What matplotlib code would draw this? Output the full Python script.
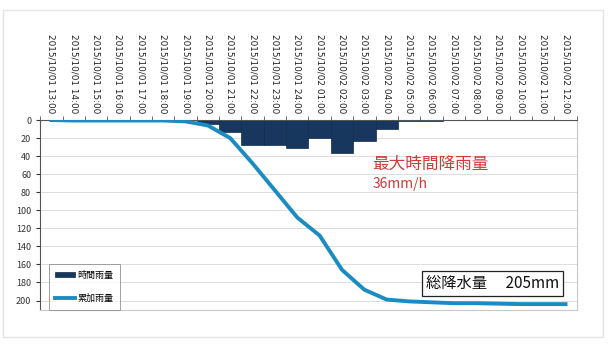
import matplotlib
matplotlib.use('Agg')
import matplotlib.pyplot as plt
from matplotlib.patches import Rectangle

plt.rcParams['font.family'] = ['Noto Sans CJK JP', 'DejaVu Sans']

times = ['2015/10/01 13:00', '2015/10/01 14:00', '2015/10/01 15:00', '2015/10/01 16:00',
         '2015/10/01 17:00', '2015/10/01 18:00', '2015/10/01 19:00', '2015/10/01 20:00',
         '2015/10/01 21:00', '2015/10/01 22:00', '2015/10/01 23:00', '2015/10/01 24:00',
         '2015/10/02 01:00', '2015/10/02 02:00', '2015/10/02 03:00', '2015/10/02 04:00',
         '2015/10/02 05:00', '2015/10/02 06:00', '2015/10/02 07:00', '2015/10/02 08:00',
         '2015/10/02 09:00', '2015/10/02 10:00', '2015/10/02 11:00', '2015/10/02 12:00']
hourly = [0, 0, 0, 0, 0, 0, 0, 4, 13, 28, 28, 31, 20, 36, 23, 10, 1, 1, 0, 0, 0, 0, 0, 0]
cumulative = [0, 0.5, 0.5, 0.5, 0.5, 0.5, 1.5, 6, 20, 48, 78, 108, 128, 166, 188, 199,
              201, 202, 203, 203, 203.5, 204, 204, 204]

fig = plt.figure(figsize=[6.09, 3.47], dpi=100)
fig.patches.append(Rectangle((0.005, 0.03), 0.985, 0.94, transform=fig.transFigure,
                             fill=False, edgecolor='#e4e4e4', linewidth=1))
ax = fig.add_axes([0.066, 0.108, 0.881, 0.546])

x = list(range(len(times)))
bars = ax.bar(x, hourly, width=1.0, color='#17375E', edgecolor='#102a45', linewidth=0.5,
              label='時間雨量', zorder=2)
line, = ax.plot(x, cumulative, color='#1a8cc2', linewidth=2.8, label='累加雨量', zorder=3)

ax.set_xlim(-0.5, len(times) - 0.5)
ax.set_ylim(210, 0)
ax.set_yticks(range(0, 201, 20))
ax.tick_params(axis='y', labelsize=6.5, length=3, direction='out', colors='#333333')
ax.grid(axis='y', color='#dddddd', linewidth=0.7, zorder=0)

ax.xaxis.tick_top()
ax.set_xticks(x)
ax.set_xticklabels(times, rotation=270, fontsize=6.4, family=['DejaVu Sans'])
ax.set_xticks([i - 0.5 for i in range(len(times) + 1)], minor=True)
ax.tick_params(axis='x', which='major', length=0, pad=5, colors='#222222')
ax.tick_params(axis='x', which='minor', length=3, direction='out', color='#555555')

for side in ['right', 'bottom']:
    ax.spines[side].set_color('#c8c8c8')
ax.spines['top'].set_color('#555555')
ax.spines['left'].set_color('#555555')

ax.text(14.35, 49, '最大時間降雨量', color='#d03a3a', fontsize=12, va='center')
ax.text(14.35, 71, '36mm/h', color='#d03a3a', fontsize=10, va='center')
ax.text(16.75, 181, '総降水量　 205mm', fontsize=11, va='center', color='#111111',
        bbox=dict(boxstyle='square,pad=0.25', facecolor='white', edgecolor='#222222',
                  linewidth=0.9))

leg = ax.legend([bars, line], ['時間雨量', '累加雨量'], loc='lower left', fontsize=6.5,
                frameon=True, fancybox=False, edgecolor='#888888', handlelength=2.2,
                handleheight=0.5, borderpad=0.7, labelspacing=1.6, handletextpad=0.3,
                borderaxespad=0, bbox_to_anchor=(0.016, 0.0))
leg.get_frame().set_linewidth(0.7)

plt.savefig('out.png', dpi=100)
